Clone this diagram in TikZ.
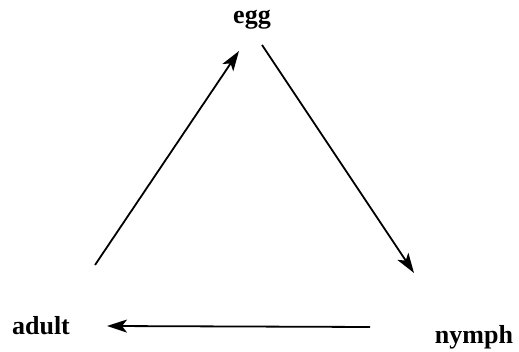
\documentclass[tikz,border=0pt]{standalone}
\usepackage{fontspec}
\setmainfont{Liberation Serif}
\usetikzlibrary{arrows.meta}

\begin{document}
\begin{tikzpicture}[
    x=1pt, y=1pt,
    stage/.style={font=\bfseries\fontsize{26}{31}\selectfont, inner sep=0pt},
    cycle/.style={-{Stealth[length=20pt, width=13pt, inset=5pt]}, line width=1.8pt}
]
\useasboundingbox (0,0) rectangle (519,352);

% life stages
\node[stage] (egg) at (252,332) {egg};
\node[stage] (adult) at (41,26) {adult};
\node[stage] (nymph) at (474,15) {nymph};

% arrow ends
\coordinate (adultout) at (95,87);
\coordinate (eggin) at (239,301);
\coordinate (eggout) at (262,307);
\coordinate (nymphin) at (414,79);
\coordinate (nymphout) at (370,25);
\coordinate (adultin) at (107,26);

\draw[cycle] (adultout) -- (eggin);
\draw[cycle] (eggout) -- (nymphin);
\draw[cycle] (nymphout) -- (adultin);

\end{tikzpicture}
\end{document}
